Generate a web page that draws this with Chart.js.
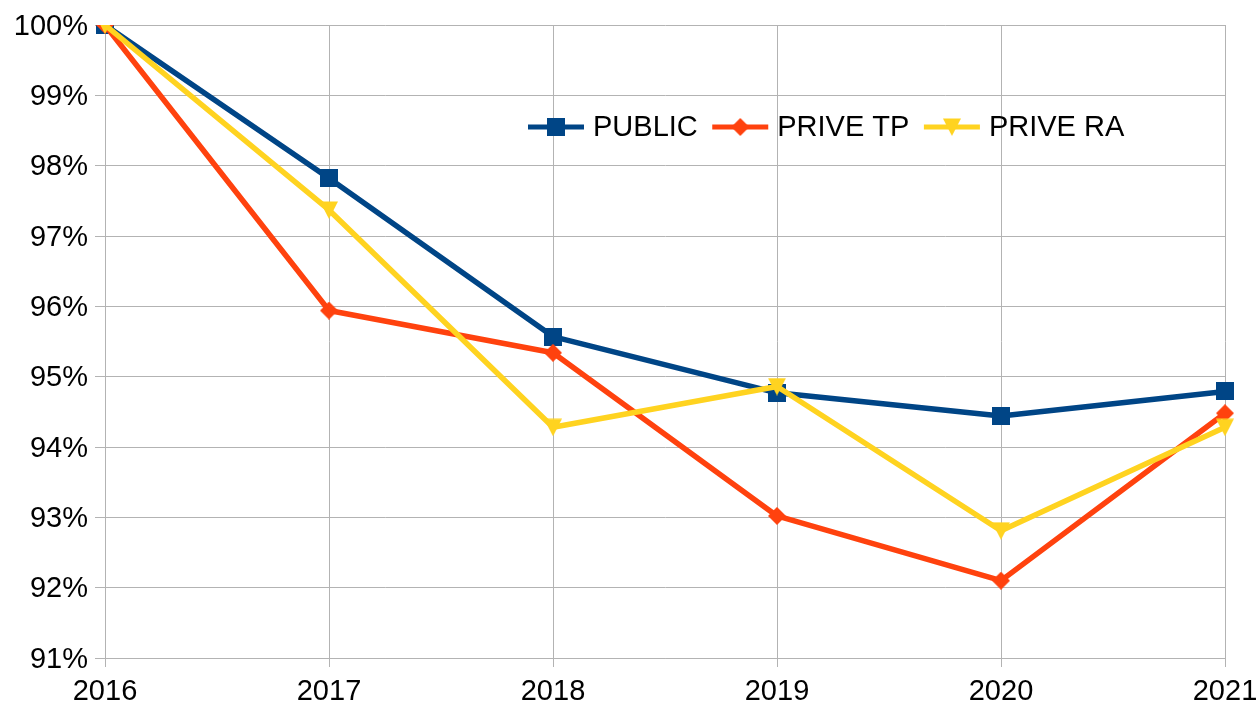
<!DOCTYPE html>
<html>
<head>
<meta charset="utf-8">
<script src="https://cdn.jsdelivr.net/npm/chart.js@4/dist/chart.umd.min.js"></script>
<style>
    html, body { margin: 0; padding: 0; background: #fff; }
    #wrap { width: 1260px; height: 705px; position: relative; }
</style>
</head>
<body>
<div id="wrap"><canvas id="evolutionChart"></canvas></div>
<script>
// values, in % of 2016
const years = ['2016', '2017', '2018', '2019', '2020', '2021'];
const publicValues = [100, 97.82, 95.57, 94.77, 94.44, 94.79];
const priveTpValues = [100, 95.94, 95.34, 93.02, 92.10, 94.48];
const priveRaValues = [100, 97.37, 94.28, 94.86, 92.81, 94.28];
const yMin = 91;
const yMax = 100;
const yStep = 1;

const FONT = "'Liberation Sans', Arial, sans-serif";
const GRID = '#b3b3b3';

// LibreOffice-like markers drawn on small canvases
function makeMarker(shape, color) {
    const c = document.createElement('canvas');
    c.width = 18;
    c.height = 18;
    const g = c.getContext('2d');
    g.fillStyle = color;
    g.beginPath();
    if (shape === 'square') {
        g.rect(0, 0, 18, 18);
    } else if (shape === 'diamond') {
        g.moveTo(9, 0);
        g.lineTo(18, 9);
        g.lineTo(9, 18);
        g.lineTo(0, 9);
    } else {
        g.moveTo(0, 0.5);
        g.lineTo(18, 0.5);
        g.lineTo(9, 18);
    }
    g.closePath();
    g.fill();
    return c;
}

const insideLegend = {
    id: 'insideLegend',
    afterDraw(chart) {
        const ctx = chart.ctx;
        let x = 528;
        const y = 127;
        ctx.save();
        ctx.font = '29px ' + FONT;
        ctx.textBaseline = 'middle';
        chart.data.datasets.forEach(ds => {
            ctx.strokeStyle = ds.borderColor;
            ctx.lineWidth = 5;
            ctx.beginPath();
            ctx.moveTo(x, y);
            ctx.lineTo(x + 56, y);
            ctx.stroke();
            const m = ds.pointStyle;
            ctx.drawImage(m, x + 28 - m.width / 2, y - m.height / 2);
            ctx.fillStyle = '#000';
            ctx.fillText(ds.label, x + 65, y + 1);
            x += 65 + ctx.measureText(ds.label).width + 14.5;
        });
        ctx.restore();
    }
};

function series(label, data, color, shape, order) {
    return {
        label: label,
        data: data,
        borderColor: color,
        backgroundColor: color,
        borderWidth: 5.5,
        borderJoinStyle: 'round',
        tension: 0,
        pointStyle: makeMarker(shape, color),
        pointRadius: 9,
        pointHoverRadius: 9,
        order: order
    };
}

Chart.defaults.font.family = FONT;
Chart.defaults.font.size = 29;
Chart.defaults.color = '#000';

const ctx = document.getElementById('evolutionChart').getContext('2d');
new Chart(ctx, {
    type: 'line',
    data: {
        labels: years,
        datasets: [
            series('PUBLIC', publicValues, '#004586', 'square', 3),
            series('PRIVE TP', priveTpValues, '#ff420e', 'diamond', 2),
            series('PRIVE RA', priveRaValues, '#ffd320', 'triangle', 1)
        ]
    },
    options: {
        responsive: true,
        maintainAspectRatio: false,
        animation: false,
        events: [],
        layout: {
            autoPadding: false,
            padding: { top: 25, right: 35, left: 0, bottom: 0 }
        },
        plugins: {
            legend: { display: false },
            tooltip: { enabled: false }
        },
        scales: {
            x: {
                offset: false,
                grid: { color: GRID, lineWidth: 1, tickLength: 9, tickColor: GRID },
                border: { color: GRID },
                ticks: { padding: 8, maxRotation: 0 },
                afterFit: scale => {
                    scale.height = 47;
                    scale.paddingLeft = 0;
                    scale.paddingRight = 35;
                }
            },
            y: {
                min: yMin,
                max: yMax,
                grid: { color: GRID, lineWidth: 1, tickLength: 10, tickColor: GRID },
                border: { color: GRID },
                ticks: {
                    stepSize: yStep,
                    padding: 7,
                    labelOffset: 1.5,
                    callback: value => `${value}%`
                },
                afterFit: scale => { scale.width = 105; }
            }
        }
    },
    plugins: [insideLegend]
});
</script>
</body>
</html>
